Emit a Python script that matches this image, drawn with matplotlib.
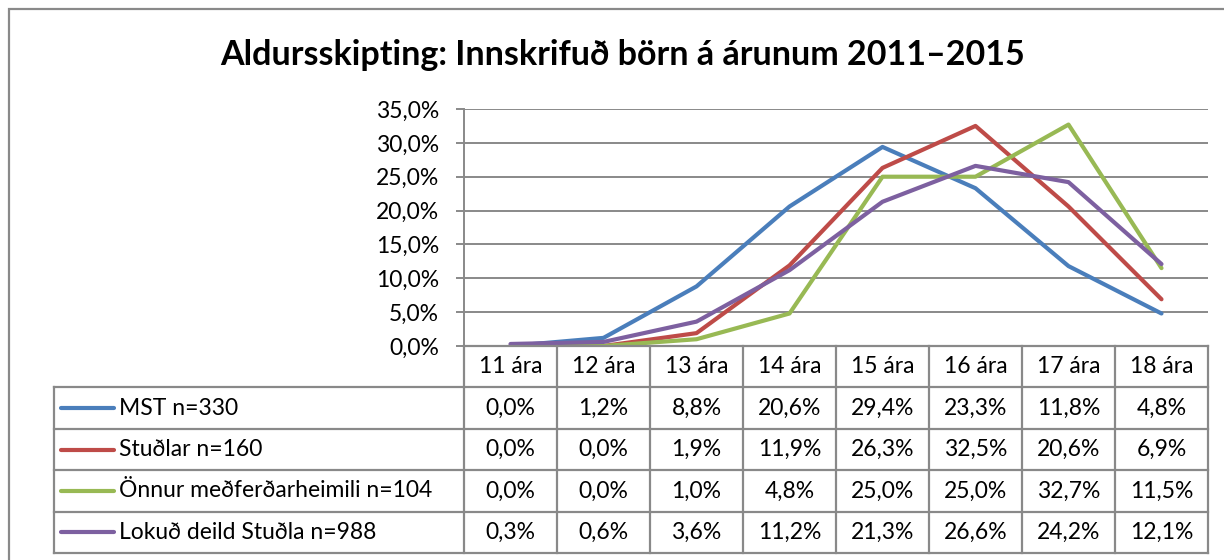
import matplotlib.pyplot as plt
from matplotlib.patches import Rectangle

# Gögn
aldur = ['11 ára', '12 ára', '13 ára', '14 ára', '15 ára', '16 ára', '17 ára', '18 ára']
mst = [0.0, 1.2, 8.8, 20.6, 29.4, 23.3, 11.8, 4.8]
studlar = [0.0, 0.0, 1.9, 11.9, 26.3, 32.5, 20.6, 6.9]
onnur = [0.0, 0.0, 1.0, 4.8, 25.0, 25.0, 32.7, 11.5]
lokud = [0.3, 0.6, 3.6, 11.2, 21.3, 26.6, 24.2, 12.1]
heiti = ['MST n=330', 'Stuðlar n=160', 'Önnur meðferðarheimili n=104', 'Lokuð deild Stuðla n=988']
y_ticks = [0, 5, 10, 15, 20, 25, 30, 35]

litir = ['#4A7EBB', '#BE4B48', '#98B954', '#7D60A0']
grar = '#898989'
plt.rcParams['font.family'] = ['Lato', 'DejaVu Sans']
fs = 16.5

W, H = 1224, 560
fig = plt.figure(figsize=(W / 100, H / 100), dpi=100)

# ytri rammi
fig.patches.append(Rectangle((9 / W, -0.1), 1.2, 1 - 9 / H + 0.1, transform=fig.transFigure,
                             fill=False, edgecolor=grar, lw=1.6))

fig.text(623 / W, 1 - 55 / H, 'Aldursskipting: Innskrifuð börn á árunum 2011–2015',
         ha='center', va='center', fontsize=24.5, fontweight='bold')

# línurit
L, R, T, B = 464, 1208, 109, 346
ax = fig.add_axes([L / W, 1 - B / H, (R - L) / W, (B - T) / H])
x = range(len(aldur))
for gildi, lit in zip([mst, studlar, onnur, lokud], litir):
    ax.plot(x, gildi, color=lit, lw=3.0, solid_capstyle='round', solid_joinstyle='round', zorder=3)
ax.set_xlim(-0.5, len(aldur) - 0.5)
ax.set_ylim(0, 35)
ax.set_yticks(y_ticks)
ax.set_yticklabels([f'{v:.1f}%'.replace('.', ',') for v in y_ticks])
ax.set_xticks([])
ax.yaxis.grid(True, color=grar, lw=1.4)
ax.set_axisbelow(True)
for s in ['top', 'right', 'bottom']:
    ax.spines[s].set_visible(False)
ax.spines['left'].set_color(grar)
ax.spines['left'].set_linewidth(1.4)
ax.tick_params(axis='y', direction='out', length=6, width=1.4, color=grar, pad=12, labelsize=fs)

# gagnatafla
TL, TB = 54, 553
tax = fig.add_axes([TL / W, 1 - TB / H, (R - TL) / W, (TB - B) / H])
col_w = (R - L) / len(aldur)
x0 = -0.5 - (L - TL) / col_w
tax.set_xlim(x0, len(aldur) - 0.5)
tax.set_ylim(5, 0)
tax.axis('off')
lk = dict(color=grar, lw=1.6, clip_on=False)
# láréttar línur
tax.plot([-0.5, len(aldur) - 0.5], [0, 0], **lk)
for r in range(1, 6):
    tax.plot([x0, len(aldur) - 0.5], [r, r], **lk)
# lóðréttar línur
tax.plot([x0, x0], [1, 5], **lk)
for c in range(len(aldur) + 1):
    tax.plot([c - 0.5, c - 0.5], [0, 5], **lk)
for i, a in enumerate(aldur):
    tax.text(i, 0.5, a, ha='center', va='center', fontsize=fs)
for r, (gildi, lit, nafn) in enumerate(zip([mst, studlar, onnur, lokud], litir, heiti), start=1):
    yy = r + 0.5
    tax.plot([x0 + 0.08, x0 + 0.65], [yy, yy], color=lit, lw=3.0, solid_capstyle='round')
    tax.text(x0 + 0.7, yy, nafn, ha='left', va='center', fontsize=fs)
    for i, v in enumerate(gildi):
        tax.text(i, yy, f'{v:.1f}%'.replace('.', ','), ha='center', va='center', fontsize=fs)

fig.savefig('out.png', dpi=100)
